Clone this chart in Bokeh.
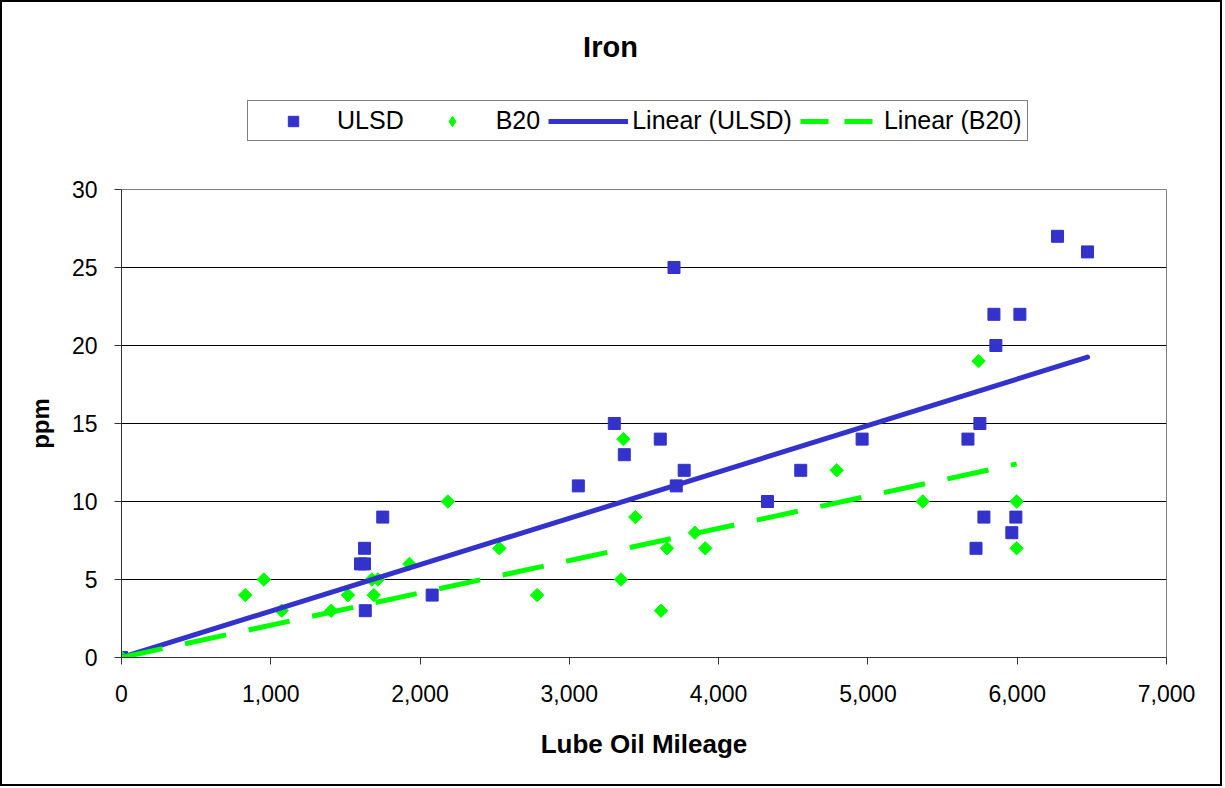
import numpy as np
from bokeh.plotting import figure
from bokeh.layouts import column
from bokeh.models import (Range1d, FixedTicker, NumeralTickFormatter, Legend,
                          LegendItem, Label, ColumnDataSource, InlineStyleSheet)
from bokeh.embed import file_html
from bokeh.resources import INLINE

# ---- data ----
ulsd_miles = [0, 1633, 1601, 1628, 1628, 1750, 2081, 3060, 3301, 3368, 3609,
              3716, 3769, 3701, 4327, 4550, 4961, 5670, 5750, 5844, 5857,
              6018, 6270, 6471, 5777, 5991, 5964, 5724]
ulsd_ppm = [0, 3, 6, 6, 7, 9, 4, 11, 15, 13, 14,
            11, 12, 25, 10, 12, 14, 14, 15, 22, 20,
            22, 27, 26, 9, 9, 8, 7]

b20_miles = [0, 829, 953, 1073, 1405, 1517, 1677, 1717, 1690, 1929, 2186,
             2531, 2784, 3346, 3362, 3442, 3614, 3654, 3841, 3910, 4791,
             5367, 5741, 5996, 5996]
b20_ppm = [0, 4, 5, 3, 3, 4, 5, 5, 4, 6, 10,
           7, 4, 5, 14, 9, 3, 7, 8, 7, 12,
           10, 19, 10, 7]

# trendline slopes (linear, through origin)
ulsd_trend_slope = 0.002975
b20_trend_slope = 0.00207

series_names = ["ULSD", "B20", "Linear (ULSD)", "Linear (B20)"]
chart_title = "Iron"
x_ticks = [0, 1000, 2000, 3000, 4000, 5000, 6000, 7000]
y_ticks = [0, 5, 10, 15, 20, 25, 30]

BLUE = "#3333CC"
GREEN = "#00FF00"
FONT = "Liberation Sans"
W = 1222
HEAD_H = 160

# ---------------- header figure: title + legend ----------------
head = figure(width=W, height=HEAD_H, output_backend="svg", toolbar_location=None,
              x_axis_type=None, y_axis_type=None,
              x_range=Range1d(0, 1), y_range=Range1d(0, 1),
              min_border=0)
head.title = None
head.outline_line_color = None
head.grid.grid_line_color = None
head.background_fill_color = "white"
head.border_fill_color = "white"

# legend swatches (NaN data -> nothing plotted, only legend keys)
k_ulsd = head.scatter(x=[np.nan], y=[np.nan], marker="square", size=12,
                      fill_color=BLUE, line_color=BLUE)
k_b20 = head.scatter(x=[np.nan], y=[np.nan], marker="diamond", size=16,
                     fill_color=GREEN, line_color=GREEN)
k_ulin = head.line(x=[np.nan, np.nan], y=[np.nan, np.nan], line_color=BLUE,
                   line_width=5)
k_blin = head.line(x=[np.nan, np.nan], y=[np.nan, np.nan], line_color=GREEN,
                   line_width=5, line_dash="28 16")

legend = Legend(items=[
    LegendItem(label=series_names[0], renderers=[k_ulsd]),
    LegendItem(label=series_names[1], renderers=[k_b20]),
    LegendItem(label=series_names[2], renderers=[k_ulin]),
    LegendItem(label=series_names[3], renderers=[k_blin]),
], orientation="horizontal", location=(126, 19))
legend.glyph_width = 80
legend.glyph_height = 26
legend.label_standoff = 4
legend.spacing = 8
legend.padding = 5
legend.margin = 0
legend.border_line_color = "black"
legend.border_line_width = 1
legend.background_fill_color = "white"
legend.background_fill_alpha = 1
legend.label_text_font = FONT
legend.label_text_font_size = "25px"
legend.label_text_color = "black"
head.add_layout(legend, "center")

head.add_layout(Label(x=489, y=HEAD_H - 46, x_units="screen", y_units="screen",
                      text=chart_title, text_font=FONT, text_font_size="29px",
                      text_font_style="bold", text_align="center",
                      text_baseline="middle", text_color="black"))

# ---------------- main plot ----------------
p = figure(width=W, height=786 - HEAD_H, output_backend="svg",
           toolbar_location=None,
           x_range=Range1d(0, 7000), y_range=Range1d(0, 30),
           min_border_left=121, min_border_right=56,
           min_border_top=189 - HEAD_H, min_border_bottom=129)
p.title = None
p.background_fill_color = "white"
p.border_fill_color = "white"
p.outline_line_color = "#808080"
p.outline_line_width = 1

p.xgrid.grid_line_color = None
p.ygrid.grid_line_color = "black"
p.ygrid.grid_line_width = 1
p.ygrid.ticker = FixedTicker(ticks=y_ticks)

p.xaxis.ticker = FixedTicker(ticks=x_ticks)
p.yaxis.ticker = FixedTicker(ticks=y_ticks)
p.xaxis.formatter = NumeralTickFormatter(format="0,0")
for ax in (p.xaxis[0], p.yaxis[0]):
    ax.axis_line_color = "#333333"
    ax.major_tick_line_color = "#333333"
    ax.major_tick_in = 0
    ax.major_tick_out = 7
    ax.minor_tick_line_color = None
    ax.major_label_text_font = FONT
    ax.major_label_text_font_size = "23px"
    ax.major_label_text_color = "black"
    ax.axis_label_text_font = FONT
    ax.axis_label_text_font_style = "bold"
    ax.axis_label_text_color = "black"
p.xaxis.axis_label = "Lube Oil Mileage"
p.yaxis.axis_label = "ppm"
p.xaxis.axis_label_text_font_size = "26px"
p.yaxis.axis_label_text_font_size = "24px"
p.xaxis.major_label_standoff = 20
p.yaxis.major_label_standoff = 17
p.xaxis.axis_label_standoff = 24
p.yaxis.axis_label_standoff = 15

s_ulsd = ColumnDataSource(dict(x=ulsd_miles, y=ulsd_ppm))
s_b20 = ColumnDataSource(dict(x=b20_miles, y=b20_ppm))
p.scatter("x", "y", source=s_ulsd, marker="square", size=12,
          fill_color=BLUE, line_color=BLUE)
p.scatter("x", "y", source=s_b20, marker="square", size=9.5,
          angle=np.pi / 4, fill_color=GREEN, line_color=GREEN)

ux = [0, max(ulsd_miles)]
bx = [0, max(b20_miles)]
p.line(ux, [v * ulsd_trend_slope for v in ux], line_color=BLUE,
       line_width=5, line_cap="round")
p.line(bx, [v * b20_trend_slope for v in bx], line_color=GREEN,
       line_width=5, line_dash="42 23")

layout = column(head, p, spacing=0)
frame_css = InlineStyleSheet(css=""":host { position: relative; }
:host::after { content: ""; position: absolute; left: 0; top: 0; right: 0; bottom: 0;
  border: 2px solid black; pointer-events: none; z-index: 100; }""")
layout.stylesheets = [frame_css]

open("out.html", "w").write(file_html(layout, INLINE))
